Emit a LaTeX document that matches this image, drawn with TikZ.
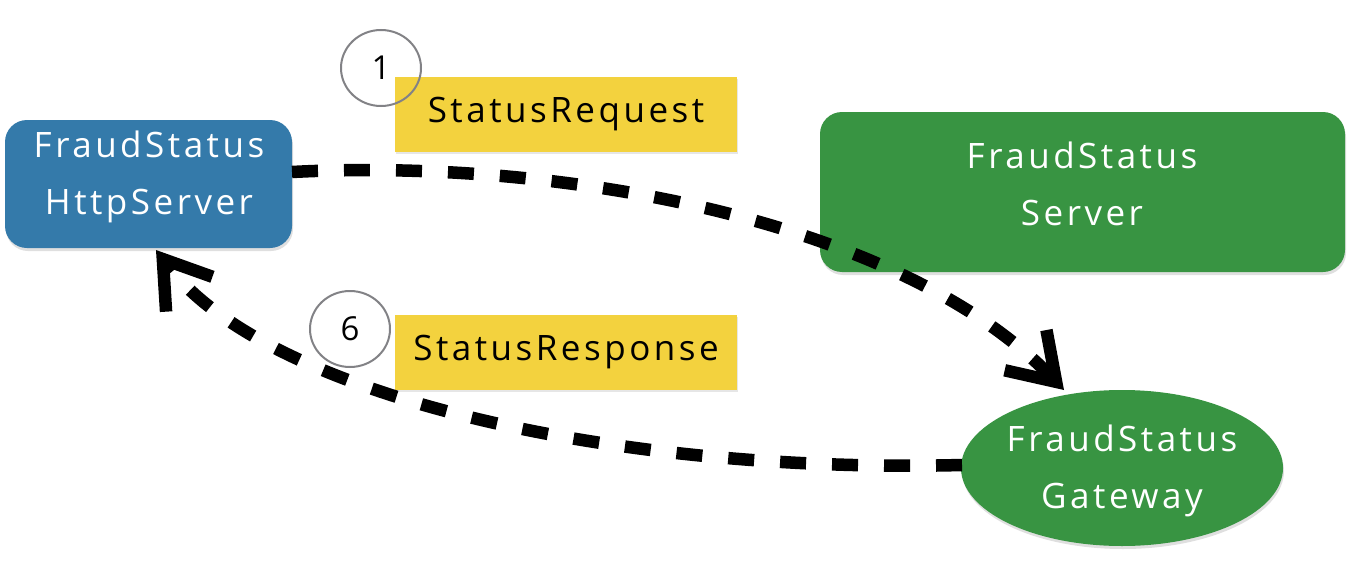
\documentclass[tikz,border=0pt]{standalone}
\usepackage{fontspec}
\setmainfont{Open Sans}[LetterSpace=10]
\usetikzlibrary{arrows.meta,shapes.geometric,shadows}
\definecolor{httpblue}{RGB}{52,122,170}
\definecolor{servergreen}{RGB}{56,148,66}
\definecolor{notebox}{RGB}{243,210,62}
\definecolor{stepgray}{RGB}{130,130,134}

\tikzset{
  box/.style={rounded corners=22pt, inner sep=0pt,
    drop shadow={shadow xshift=1pt, shadow yshift=-3pt, opacity=0.25}},
  boxtext/.style={text=white, align=center, font=\fontsize{35}{57}\selectfont},
  note/.style={fill=notebox, minimum width=342pt, minimum height=75pt,
    font=\fontsize{35}{40}\selectfont, inner sep=0pt,
    drop shadow={shadow xshift=1pt, shadow yshift=-2pt, opacity=0.2}},
  stepmark/.style={ellipse, draw=stepgray, line width=2pt, minimum width=80pt,
    minimum height=76pt, inner sep=0pt, font=\fontsize{33}{38}\selectfont},
  flow/.style={line width=12.5pt, dash pattern=on 26pt off 26pt,
    -{Straight Barb[length=44pt, width=58pt, line width=12.5pt]}}
}

\begin{document}
\begin{tikzpicture}[x=1pt, y=-1pt]
  \useasboundingbox (0,0) rectangle (1358,570);

  % Boxes
  \node[box, fill=httpblue, minimum width=287pt, minimum height=128pt]
    (http) at (148.5,184) {};
  \node[boxtext] (httptext) at (149,177) {FraudStatus\\HttpServer};
  \node[box, fill=servergreen, minimum width=525pt, minimum height=160pt]
    (server) at (1082.5,192) {};
  \node[boxtext] (servertext) at (1082,184) {FraudStatus\\Server};
  \node[ellipse, boxtext, fill=servergreen, minimum width=322pt,
    minimum height=156pt, inner sep=0pt,
    drop shadow={shadow xshift=1pt, shadow yshift=-3pt, opacity=0.25}]
    (gateway) at (1122,468) {};
  \node[boxtext] (gatewaytext) at (1122,471) {FraudStatus\\Gateway};

  % Message labels
  \node[note] (request) at (566,114.5) {StatusRequest};
  \node[note] (response) at (566,352.5) {StatusResponse};

  % Step numbers
  \node[stepmark] (one) at (381,68) {1};
  \node[stepmark] (six) at (350,329) {6};

  % Request / response flows
  \coordinate (reqstart) at (292,172);
  \coordinate (reqend) at (1064,390);
  \coordinate (resstart) at (962,465);
  \coordinate (resend) at (156,250);
  \draw[flow] (reqstart) .. controls (560,158) and (900,220) .. (reqend);
  \draw[flow] (resstart) .. controls (610,474) and (265,395) .. (resend);
\end{tikzpicture}
\end{document}
